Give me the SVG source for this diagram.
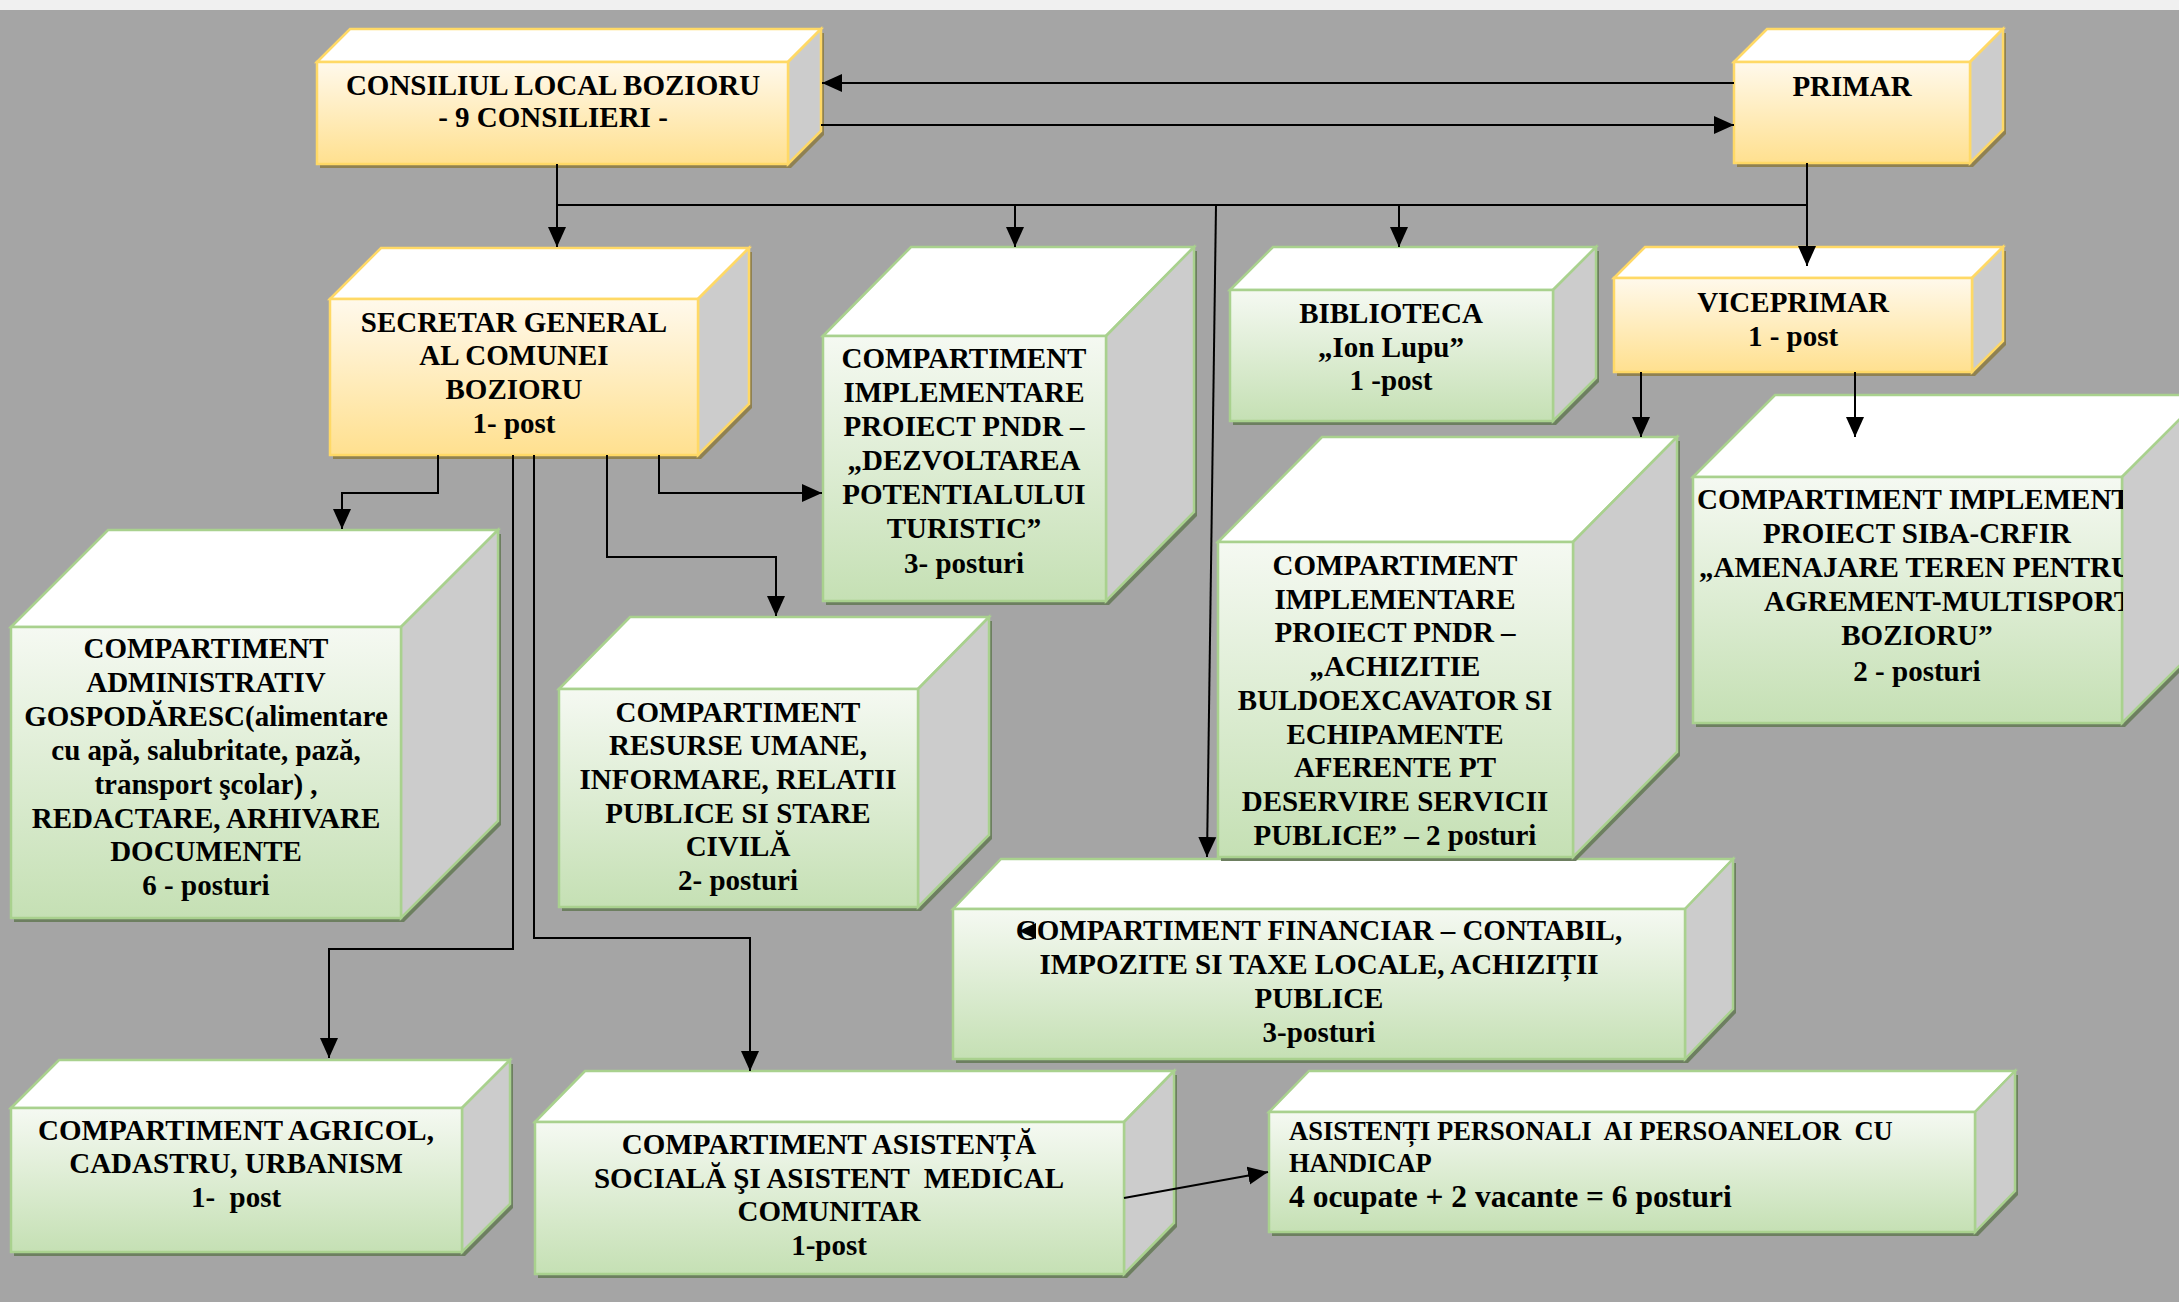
<svg xmlns="http://www.w3.org/2000/svg" width="2179" height="1302" viewBox="0 0 2179 1302">
<defs>
<linearGradient id="gy" x1="0" y1="0" x2="0" y2="1"><stop offset="0" stop-color="#fff9ec"/><stop offset="1" stop-color="#ffe08f"/></linearGradient>
<linearGradient id="gg" x1="0" y1="0" x2="0" y2="1"><stop offset="0" stop-color="#f5f9f2"/><stop offset="1" stop-color="#c5e0b4"/></linearGradient>
<marker id="ah" markerWidth="20" markerHeight="20" refX="20" refY="10" orient="auto" markerUnits="userSpaceOnUse"><path d="M0,1 L20,10 L0,19 z" fill="#000"/></marker>
<clipPath id="clipSiba"><rect x="1693" y="477" width="430" height="246"/></clipPath>
<style>
.ys{fill:#8f8152}
.gs{fill:#6d7f60}
.yt{fill:#fff;stroke:#ffd966;stroke-width:2.5}
.ysd{fill:#cccccc;stroke:#ffd966;stroke-width:2.5}
.yf{fill:url(#gy);stroke:#ffd966;stroke-width:2.5}
.gt{fill:#fff;stroke:#a9d18e;stroke-width:2.5}
.gsd{fill:#cccccc;stroke:#a9d18e;stroke-width:2.5}
.gf{fill:url(#gg);stroke:#a9d18e;stroke-width:2.5}
.t{font-family:"Liberation Serif","Times New Roman",serif;font-weight:bold;font-size:29px;fill:#000;text-anchor:middle}
.tl{text-anchor:start}
.c{fill:none;stroke:#000;stroke-width:2}
.cm{fill:none;stroke:#000;stroke-width:2;marker-end:url(#ah)}
</style>
</defs>
<rect x="0" y="0" width="2179" height="1302" fill="#a5a5a5"/>
<rect x="0" y="0" width="2179" height="10" fill="#f0f0f0"/>

<g id="consiliul">
<polygon class="ys" transform="translate(3,4)" points="317,62 350,29 821,29 821,131 788,164 317,164"/>
<polygon class="yt" points="317,62 350,29 821,29 788,62"/>
<polygon class="ysd" points="788,62 821,29 821,131 788,164"/>
<rect class="yf" x="317" y="62" width="471" height="102"/>
<text class="t" x="553" y="95">CONSILIUL LOCAL BOZIORU</text>
<text class="t" x="553" y="127">- 9 CONSILIERI -</text>
</g>

<g id="primar">
<polygon class="ys" transform="translate(3,4)" points="1734,62 1767,29 2003,29 2003,130 1970,163 1734,163"/>
<polygon class="yt" points="1734,62 1767,29 2003,29 1970,62"/>
<polygon class="ysd" points="1970,62 2003,29 2003,130 1970,163"/>
<rect class="yf" x="1734" y="62" width="236" height="101"/>
<text class="t" x="1852" y="96">PRIMAR</text>
</g>

<g id="secretar">
<polygon class="ys" transform="translate(3,4)" points="330,299 381,248 749,248 749,404 698,455 330,455"/>
<polygon class="yt" points="330,299 381,248 749,248 698,299"/>
<polygon class="ysd" points="698,299 749,248 749,404 698,455"/>
<rect class="yf" x="330" y="299" width="368" height="156"/>
<text class="t" x="514" y="332">SECRETAR GENERAL</text>
<text class="t" x="514" y="365">AL COMUNEI</text>
<text class="t" x="514" y="399">BOZIORU</text>
<text class="t" x="514" y="433">1- post</text>
</g>

<g id="pndr-turistic">
<polygon class="gs" transform="translate(3,4)" points="823,336 911,247 1194,247 1194,512 1106,601 823,601"/>
<polygon class="gt" points="823,336 911,247 1194,247 1106,336"/>
<polygon class="gsd" points="1106,336 1194,247 1194,512 1106,601"/>
<rect class="gf" x="823" y="336" width="283" height="265"/>
<text class="t" x="964" y="368">COMPARTIMENT</text>
<text class="t" x="964" y="402">IMPLEMENTARE</text>
<text class="t" x="964" y="436">PROIECT PNDR –</text>
<text class="t" x="964" y="470">„DEZVOLTAREA</text>
<text class="t" x="964" y="504">POTENTIALULUI</text>
<text class="t" x="964" y="538">TURISTIC”</text>
<text class="t" x="964" y="573">3- posturi</text>
</g>

<g id="biblioteca">
<polygon class="gs" transform="translate(3,4)" points="1230,290 1273,247 1596,247 1596,378 1553,421 1230,421"/>
<polygon class="gt" points="1230,290 1273,247 1596,247 1553,290"/>
<polygon class="gsd" points="1553,290 1596,247 1596,378 1553,421"/>
<rect class="gf" x="1230" y="290" width="323" height="131"/>
<text class="t" x="1391" y="323">BIBLIOTECA</text>
<text class="t" x="1391" y="357">„Ion Lupu”</text>
<text class="t" x="1391" y="390">1 -post</text>
</g>

<g id="viceprimar">
<polygon class="ys" transform="translate(3,4)" points="1614,278 1645,247 2003,247 2003,341 1972,372 1614,372"/>
<polygon class="yt" points="1614,278 1645,247 2003,247 1972,278"/>
<polygon class="ysd" points="1972,278 2003,247 2003,341 1972,372"/>
<rect class="yf" x="1614" y="278" width="358" height="94"/>
<text class="t" x="1793" y="312">VICEPRIMAR</text>
<text class="t" x="1793" y="346">1 - post</text>
</g>

<g id="administrativ">
<polygon class="gs" transform="translate(3,4)" points="11,627 108,530 498,530 498,821 401,918 11,918"/>
<polygon class="gt" points="11,627 108,530 498,530 401,627"/>
<polygon class="gsd" points="401,627 498,530 498,821 401,918"/>
<rect class="gf" x="11" y="627" width="390" height="291"/>
<text class="t" x="206" y="658">COMPARTIMENT</text>
<text class="t" x="206" y="692">ADMINISTRATIV</text>
<text class="t" x="206" y="726">GOSPODĂRESC(alimentare</text>
<text class="t" x="206" y="760">cu apă, salubritate, pază,</text>
<text class="t" x="206" y="794">transport şcolar) ,</text>
<text class="t" x="206" y="828">REDACTARE, ARHIVARE</text>
<text class="t" x="206" y="861">DOCUMENTE</text>
<text class="t" x="206" y="895">6 - posturi</text>
</g>

<g id="resurse">
<polygon class="gs" transform="translate(3,4)" points="559,689 630,617 989,617 989,835 918,907 559,907"/>
<polygon class="gt" points="559,689 630,617 989,617 918,689"/>
<polygon class="gsd" points="918,689 989,617 989,835 918,907"/>
<rect class="gf" x="559" y="689" width="359" height="218"/>
<text class="t" x="738" y="722">COMPARTIMENT</text>
<text class="t" x="738" y="755">RESURSE UMANE,</text>
<text class="t" x="738" y="789">INFORMARE, RELATII</text>
<text class="t" x="738" y="823">PUBLICE SI STARE</text>
<text class="t" x="738" y="856">CIVILĂ</text>
<text class="t" x="738" y="890">2- posturi</text>
</g>

<g id="financiar">
<polygon class="gs" transform="translate(3,4)" points="953,909 1001,859 1733,859 1733,1009 1685,1059 953,1059"/>
<polygon class="gt" points="953,909 1001,859 1733,859 1685,909"/>
<polygon class="gsd" points="1685,909 1733,859 1733,1009 1685,1059"/>
<rect class="gf" x="953" y="909" width="732" height="150"/>
<text class="t" x="1319" y="940">COMPARTIMENT FINANCIAR – CONTABIL,</text>
<text class="t" x="1319" y="974">IMPOZITE SI TAXE LOCALE, ACHIZIȚII</text>
<text class="t" x="1319" y="1008">PUBLICE</text>
<text class="t" x="1319" y="1042">3-posturi</text>
</g>

<g id="pndr-achizitie">
<polygon class="gs" transform="translate(3,4)" points="1218,542 1322,437 1677,437 1677,752 1573,857 1218,857"/>
<polygon class="gt" points="1218,542 1322,437 1677,437 1573,542"/>
<polygon class="gsd" points="1573,542 1677,437 1677,752 1573,857"/>
<rect class="gf" x="1218" y="542" width="355" height="315"/>
<text class="t" x="1395" y="575">COMPARTIMENT</text>
<text class="t" x="1395" y="609">IMPLEMENTARE</text>
<text class="t" x="1395" y="642">PROIECT PNDR –</text>
<text class="t" x="1395" y="676">„ACHIZITIE</text>
<text class="t" x="1395" y="710">BULDOEXCAVATOR SI</text>
<text class="t" x="1395" y="744">ECHIPAMENTE</text>
<text class="t" x="1395" y="777">AFERENTE PT</text>
<text class="t" x="1395" y="811">DESERVIRE SERVICII</text>
<text class="t" x="1395" y="845">PUBLICE” – 2 posturi</text>
</g>

<g id="siba">
<polygon class="gs" transform="translate(3,4)" points="1693,477 1775,395 2204,395 2204,641 2122,723 1693,723"/>
<polygon class="gt" points="1693,477 1775,395 2204,395 2122,477"/>
<polygon class="gsd" points="2122,477 2204,395 2204,641 2122,723"/>
<rect class="gf" x="1693" y="477" width="429" height="246"/>
<g clip-path="url(#clipSiba)">
<text class="t tl" x="1697" y="509">COMPARTIMENT IMPLEMENT</text>
<text class="t" x="1917" y="543">PROIECT SIBA-CRFIR</text>
<text class="t tl" x="1699" y="577">„AMENAJARE TEREN PENTRU</text>
<text class="t tl" x="1764" y="611">AGREMENT-MULTISPORT</text>
<text class="t" x="1917" y="645">BOZIORU”</text>
<text class="t" x="1917" y="681">2 - posturi</text>
</g>
</g>

<g id="agricol">
<polygon class="gs" transform="translate(3,4)" points="11,1108 59,1060 510,1060 510,1204 462,1252 11,1252"/>
<polygon class="gt" points="11,1108 59,1060 510,1060 462,1108"/>
<polygon class="gsd" points="462,1108 510,1060 510,1204 462,1252"/>
<rect class="gf" x="11" y="1108" width="451" height="144"/>
<text class="t" x="236" y="1140">COMPARTIMENT AGRICOL,</text>
<text class="t" x="236" y="1173">CADASTRU, URBANISM</text>
<text class="t" x="236" y="1207" xml:space="preserve" style="white-space:pre">1-  post</text>
</g>

<g id="asistenta">
<polygon class="gs" transform="translate(3,4)" points="535,1122 585,1071 1174,1071 1174,1223 1124,1274 535,1274"/>
<polygon class="gt" points="535,1122 585,1071 1174,1071 1124,1122"/>
<polygon class="gsd" points="1124,1122 1174,1071 1174,1223 1124,1274"/>
<rect class="gf" x="535" y="1122" width="589" height="152"/>
<text class="t" x="829" y="1154">COMPARTIMENT ASISTENȚĂ</text>
<text class="t" x="829" y="1188" xml:space="preserve" style="white-space:pre">SOCIALĂ ŞI ASISTENT  MEDICAL</text>
<text class="t" x="829" y="1221">COMUNITAR</text>
<text class="t" x="829" y="1255">1-post</text>
</g>

<g id="asistenti">
<polygon class="gs" transform="translate(3,4)" points="1269,1112 1309,1071 2015,1071 2015,1191 1975,1232 1269,1232"/>
<polygon class="gt" points="1269,1112 1309,1071 2015,1071 1975,1112"/>
<polygon class="gsd" points="1975,1112 2015,1071 2015,1191 1975,1232"/>
<rect class="gf" x="1269" y="1112" width="706" height="120"/>
<text class="t tl" x="1289" y="1140" style="font-size:26.5px;white-space:pre" xml:space="preserve">ASISTENȚI PERSONALI  AI PERSOANELOR  CU</text>
<text class="t tl" x="1289" y="1172" style="font-size:26.5px">HANDICAP</text>
<text class="t tl" x="1289" y="1207" style="font-size:31.5px">4 ocupate + 2 vacante = 6 posturi</text>
</g>

<g id="connectors">
<path class="cm" d="M1734,83 H822"/>
<path class="cm" d="M821,125 H1734"/>
<path class="cm" d="M557,164 V247"/>
<path class="c" d="M557,205 H1807"/>
<path class="cm" d="M1807,163 V266"/>
<path class="cm" d="M1015,205 V247"/>
<path class="cm" d="M1399,205 V247"/>
<path class="cm" d="M1216,205 L1207,857"/>
<path class="cm" d="M1641,372 V437"/>
<path class="cm" d="M1855,372 V437"/>
<path class="cm" d="M438,455 V493 H342 V529"/>
<path class="cm" d="M659,455 V493 H822"/>
<path class="cm" d="M607,455 V557 H776 V616"/>
<path class="cm" d="M513,455 V949 H329 V1058"/>
<path class="cm" d="M534,455 V938 H750 V1071"/>
<path class="cm" d="M1124,1198 L1268,1172"/>
<polygon points="1019,931 1036,923 1036,939" fill="#000"/>
</g>
</svg>
